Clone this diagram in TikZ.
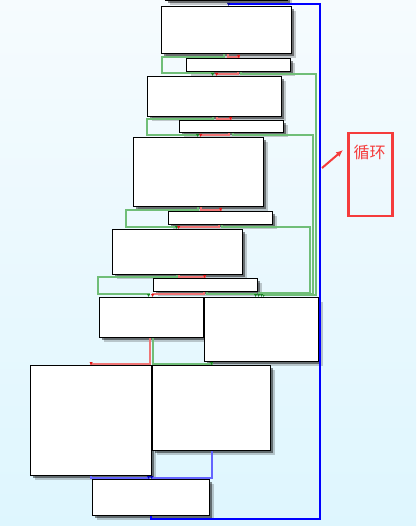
\documentclass[tikz,border=0pt]{standalone}
\usepackage{fontspec}
\newfontfamily\cjk{Noto Sans CJK SC}
\usepackage{tikz}
\usetikzlibrary{arrows.meta}
\usetikzlibrary{shadows}
\usetikzlibrary{positioning}
\definecolor{bgtop}{RGB}{246,251,254}
\definecolor{bgbot}{RGB}{222,246,254}
\definecolor{tline}{RGB}{112,190,120}
\definecolor{ttip}{RGB}{20,130,30}
\definecolor{fline}{RGB}{240,118,118}
\definecolor{ftip}{RGB}{225,20,20}
\definecolor{mline}{RGB}{100,100,255}
\definecolor{notered}{RGB}{245,60,60}

\begin{document}
\begin{tikzpicture}[
x=1pt, y=-1pt,
block/.style={rectangle, draw=black, fill=white, line width=1.2pt, inner sep=0, anchor=north west,
  drop shadow={shadow xshift=4.5pt, shadow yshift=-4.5pt, opacity=.2, fill=black},
  drop shadow={shadow xshift=2.5pt, shadow yshift=-2.5pt, opacity=.45, fill=black}},
tedge/.style={draw=tline, line width=1.8pt, -{Latex[length=3pt,width=3.5pt,color=ttip]}},
fedge/.style={draw=fline, line width=1.8pt, -{Latex[length=3pt,width=3.5pt,color=ftip]}},
medge/.style={draw=mline, line width=1.8pt, -{Latex[length=3pt,width=3.5pt,color=blue!70!black]}},
backedge/.style={draw=blue, line width=2pt, -{Latex[length=3pt,width=3.5pt,color=blue!60!black]}}
]
\clip (0,0) rectangle (416,526);
\shade[top color=bgtop, bottom color=bgbot] (0,0) rectangle (416,526);

% blocks
\node[block, minimum width=122pt, minimum height=40pt, anchor=south west] (top) at (165,1) {};
\node[block, minimum width=130pt, minimum height=47pt] (a) at (161,6) {};
\node[block, minimum width=104pt, minimum height=13pt] (b) at (186,58) {};
\node[block, minimum width=134pt, minimum height=40pt] (c) at (147,76) {};
\node[block, minimum width=104pt, minimum height=12pt] (d) at (179,120) {};
\node[block, minimum width=130pt, minimum height=69pt] (e) at (133,137) {};
\node[block, minimum width=104pt, minimum height=13pt] (f) at (168,211) {};
\node[block, minimum width=130pt, minimum height=45pt] (g) at (112,229) {};
\node[block, minimum width=104pt, minimum height=13pt] (h) at (153,278) {};
\node[block, minimum width=104pt, minimum height=40pt] (i) at (99,297) {};
\node[block, minimum width=114pt, minimum height=64pt] (j) at (204,297) {};
\node[block, minimum width=121pt, minimum height=110pt] (k) at (30,365) {};
\node[block, minimum width=118pt, minimum height=85pt] (l) at (152,365) {};
\node[block, minimum width=117pt, minimum height=36pt] (m) at (92,479) {};

% branches
\draw[fedge] ([xshift=1pt]a.south) -- ++(0,3) -| (b.north);
\draw[tedge] ([xshift=-3pt]a.south) -- ++(0,3) -| ++(-62,16) -| ([xshift=-2pt]c.north);
\draw[fedge] ([xshift=-1pt]b.south) -- ++(0,1.5) -| ([xshift=2pt]c.north);
\draw[tedge] ([xshift=2pt]b.south) -- ++(0,1.5) -| ++(75,221) -| ([xshift=2pt]j.north);
\draw[fedge] ([xshift=2pt]c.south) -- ++(0,1.5) -| ([xshift=-1pt]d.north);
\draw[tedge] ([xshift=-2pt]c.south) -- ++(0,1.5) -| ++(-66,16) -| ([xshift=-1pt]e.north);
\draw[fedge] ([xshift=-3pt]d.south) -- ++(0,2) -| ([xshift=2pt]e.north);
\draw[tedge] ([xshift=1pt]d.south) -- ++(0,2) -| ++(80,158.5) -| (j.north);
\draw[fedge] ([xshift=2pt]e.south) -- ++(0,2.5) -| (f.north);
\draw[tedge] ([xshift=-1pt]e.south) -- ++(0,2.5) -| ++(-72,17.5) -| ([xshift=-1pt]g.north);
\draw[fedge] ([xshift=-2pt]f.south) -- ++(0,1.5) -| ([xshift=1pt]g.north);
\draw[tedge] ([xshift=1pt]f.south) -- ++(0,1.5) -| ++(88,66) -| ([xshift=-3pt]j.north);
\draw[fedge] ([xshift=1pt]g.south) -- ++(0,2) -| ([xshift=-1pt]h.north);
\draw[tedge] ([xshift=-1pt]g.south) -- ++(0,2) -| ++(-79,17) -| ([xshift=-3pt]i.north);
\draw[fedge] ([xshift=-2pt]h.south) -- ++(0,1.5) -| ([xshift=1pt]i.north);
\draw[tedge] ([xshift=1pt]h.south) -- ++(0,2) -| ([xshift=-6pt]j.north);
\draw[fedge] ([xshift=-2pt]i.south) -- ++(0,26) -| (k.north);
\draw[tedge] ([xshift=1pt]i.south) -- ++(0,26) -| (l.north);
\draw[medge] ([xshift=-0.5pt]k.south) -- ++(0,2) -| ([xshift=-2.5pt]m.north);
\draw[medge] (l.south) -- ++(0,27) -| ([xshift=0.5pt]m.north);
\draw[backedge] ([xshift=-0.5pt]m.south) -- ++(0,2.5) -| ++(169,-514.5) -| ([xshift=2pt]a.north);

% note
\node[draw=notered, line width=2.7pt, minimum width=44pt, minimum height=83pt, inner sep=0] (frame) at (370.5,174.5) {};
\node[text=notered, font=\cjk\fontsize{16}{16}\selectfont, inner sep=0, below=13pt of frame.north, xshift=-1pt] (lbl) {循环};
\coordinate (tail) at (322,168);
\coordinate (tip) at (343,150);
\draw[notered, line width=2pt, -{Latex[length=7pt,width=6pt]}] (tail) -- (tip);
\end{tikzpicture}
\end{document}
